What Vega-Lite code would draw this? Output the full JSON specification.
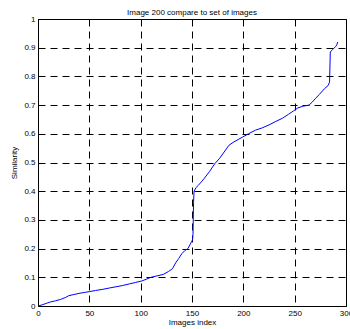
{
  "$schema": "https://vega.github.io/schema/vega-lite/v6.json",
  "autosize": "none",
  "width": 308,
  "height": 287,
  "padding": {"left": 38, "top": 19, "right": 4, "bottom": 23},
  "background": "white",
  "title": {"text": "Image 200 compare to set of images", "fontSize": 8, "fontWeight": "normal", "font": "Liberation Sans", "color": "black", "offset": 3, "dy": 5},
  "config": {
    "view": {"stroke": "black", "strokeWidth": 1},
    "axis": {"labelFont": "Liberation Sans", "titleFont": "Liberation Sans", "labelFontSize": 8, "titleFontSize": 8, "titleFontWeight": "normal", "labelColor": "black", "titleColor": "black", "domainColor": "black", "grid": true, "gridColor": "black", "gridDash": [7, 5], "gridOpacity": 1, "gridWidth": 1, "ticks": false, "labelPadding": 3}
  },
  "data": {"values": [
    {"index": 0, "similarity": 0},
    {"index": 4, "similarity": 0.004},
    {"index": 8, "similarity": 0.009},
    {"index": 12, "similarity": 0.014},
    {"index": 17, "similarity": 0.018},
    {"index": 22, "similarity": 0.023},
    {"index": 27, "similarity": 0.03},
    {"index": 30, "similarity": 0.036},
    {"index": 35, "similarity": 0.04},
    {"index": 40, "similarity": 0.044},
    {"index": 45, "similarity": 0.047},
    {"index": 50, "similarity": 0.05},
    {"index": 56, "similarity": 0.054},
    {"index": 63, "similarity": 0.058},
    {"index": 70, "similarity": 0.063},
    {"index": 76, "similarity": 0.067},
    {"index": 82, "similarity": 0.071},
    {"index": 89, "similarity": 0.077},
    {"index": 95, "similarity": 0.082},
    {"index": 101, "similarity": 0.087},
    {"index": 106, "similarity": 0.094},
    {"index": 110, "similarity": 0.1},
    {"index": 116, "similarity": 0.105},
    {"index": 122, "similarity": 0.11},
    {"index": 127, "similarity": 0.12},
    {"index": 131, "similarity": 0.13},
    {"index": 134, "similarity": 0.15},
    {"index": 137, "similarity": 0.165},
    {"index": 140, "similarity": 0.182},
    {"index": 143, "similarity": 0.193},
    {"index": 146, "similarity": 0.2},
    {"index": 149, "similarity": 0.22},
    {"index": 150.5, "similarity": 0.23},
    {"index": 151, "similarity": 0.25},
    {"index": 151.5, "similarity": 0.36},
    {"index": 152, "similarity": 0.4},
    {"index": 154, "similarity": 0.413},
    {"index": 156, "similarity": 0.42},
    {"index": 159, "similarity": 0.432},
    {"index": 162, "similarity": 0.445},
    {"index": 167, "similarity": 0.468},
    {"index": 172, "similarity": 0.495},
    {"index": 177, "similarity": 0.515},
    {"index": 182, "similarity": 0.54},
    {"index": 186, "similarity": 0.56},
    {"index": 190, "similarity": 0.57},
    {"index": 195, "similarity": 0.58},
    {"index": 199, "similarity": 0.588},
    {"index": 205, "similarity": 0.6},
    {"index": 212, "similarity": 0.613},
    {"index": 218, "similarity": 0.62},
    {"index": 225, "similarity": 0.631},
    {"index": 231, "similarity": 0.642},
    {"index": 238, "similarity": 0.654},
    {"index": 244, "similarity": 0.668},
    {"index": 249, "similarity": 0.68},
    {"index": 253, "similarity": 0.69},
    {"index": 258, "similarity": 0.696},
    {"index": 264, "similarity": 0.7},
    {"index": 267, "similarity": 0.71},
    {"index": 270, "similarity": 0.722},
    {"index": 274, "similarity": 0.737},
    {"index": 279, "similarity": 0.757},
    {"index": 282.5, "similarity": 0.768},
    {"index": 284, "similarity": 0.78},
    {"index": 284.7, "similarity": 0.885},
    {"index": 287, "similarity": 0.894},
    {"index": 290, "similarity": 0.904},
    {"index": 291, "similarity": 0.91},
    {"index": 292, "similarity": 0.92}
  ]},
  "mark": {"type": "line", "color": "#0000ff", "strokeWidth": 1, "clip": true},
  "encoding": {
    "x": {"field": "index", "type": "quantitative", "scale": {"domain": [0, 300], "nice": false}, "axis": {"title": "Images index", "values": [0, 50, 100, 150, 200, 250, 300], "labelFlush": false, "labelOverlap": false, "titlePadding": 1}},
    "y": {"field": "similarity", "type": "quantitative", "scale": {"domain": [0, 1], "nice": false}, "axis": {"title": "Similarity", "values": [0, 0.1, 0.2, 0.3, 0.4, 0.5, 0.6, 0.7, 0.8, 0.9, 1], "format": "~g", "labelOverlap": false, "titlePadding": 5}}
  }
}
